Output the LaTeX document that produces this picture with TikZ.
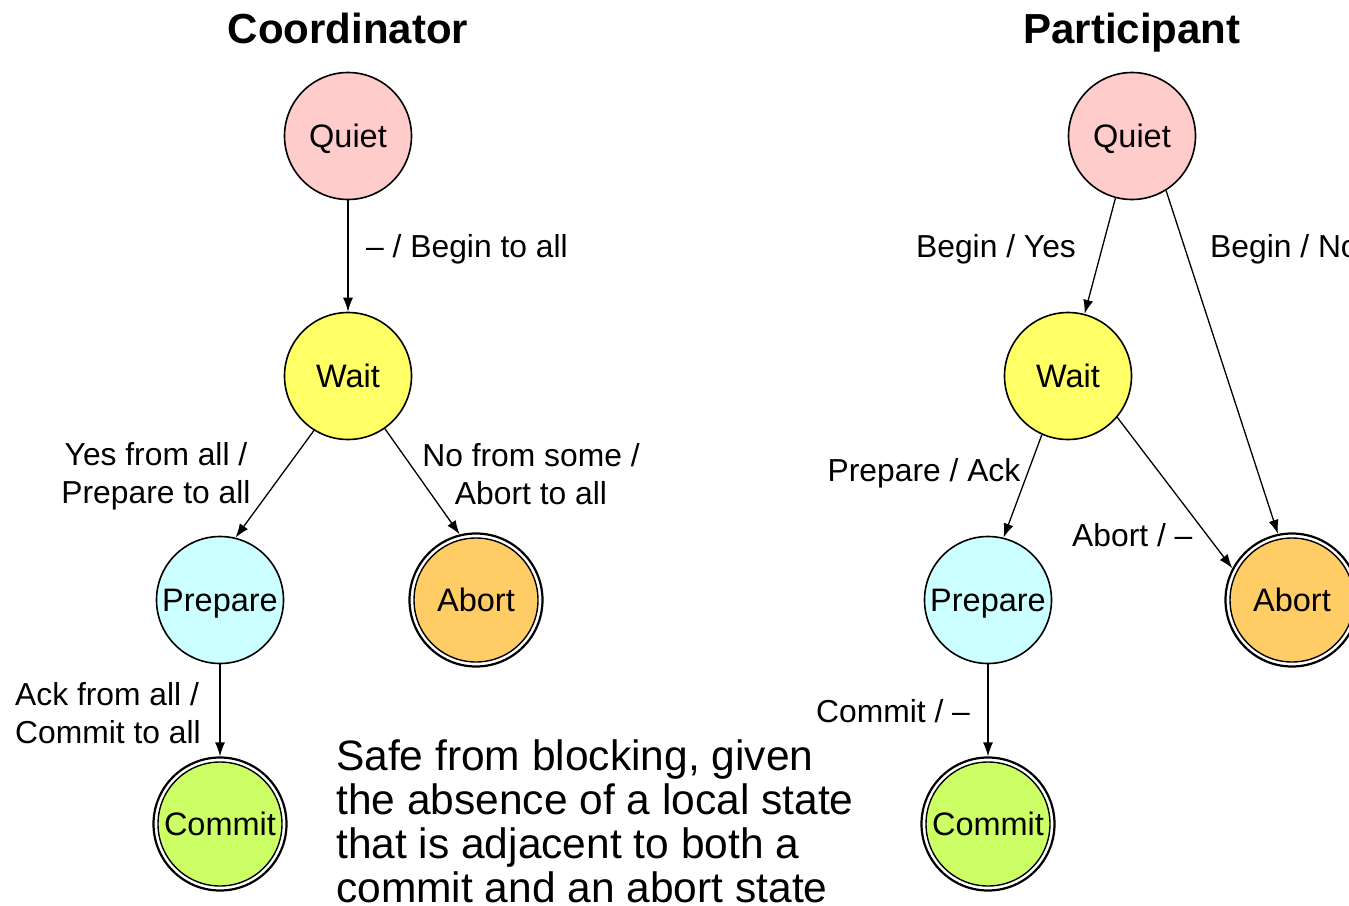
\documentclass[tikz,border=0pt]{standalone}
\usepackage{fontspec}
\setmainfont{Liberation Sans}
\usetikzlibrary{arrows.meta}
\definecolor{quietc}{HTML}{FFCCCC}
\definecolor{waitc}{HTML}{FFFF66}
\definecolor{prepc}{HTML}{CCFFFF}
\definecolor{abortc}{HTML}{FFCC66}
\definecolor{commitc}{HTML}{CCFF66}
\tikzset{
  statefont/.style={font=\fontsize{32.5}{38}\selectfont, text height=23pt, text depth=0pt},
  state/.style={circle, draw=black, line width=1.6pt, minimum size=127pt, inner sep=0pt, statefont},
  final/.style={circle, draw=black, line width=2.2pt, minimum size=133pt, inner sep=0pt,
    fill=white,
    path picture={\fill[#1, draw=black, line width=1.4pt]
      (path picture bounding box.center) circle (62pt);}},
  trans/.style={line width=1.3pt, -{Latex[length=14pt,width=10pt]}},
  lbl/.style={font=\fontsize{31.8}{38}\selectfont, inner sep=0pt},
  title/.style={font=\fontsize{42}{48}\selectfont\bfseries, inner sep=0pt,
    text height=30pt, text depth=0pt},
}
\begin{document}
\begin{tikzpicture}[x=1pt,y=-1pt]
\useasboundingbox (0,0) rectangle (1349,905);

% ---- Coordinator ----
\node[title] (ctitle) at (348,28) {Coordinator};
\node[state, fill=quietc] (cq) at (348,136) {Quiet};
\node[state, fill=waitc] (cw) at (348,376) {Wait};
\node[state, fill=prepc] (cp) at (220,600) {Prepare};
\node[final=abortc] (ca) at (476,600) {};
\node[statefont] (cal) at (ca.center) {Abort};
\node[final=commitc] (cc) at (220,824) {};
\node[statefont] (ccl) at (cc.center) {Commit};

\draw[trans] (cq) -- (cw);
\draw[trans] (cw.-122.7) -- (cp.76);
\draw[trans] (cw.-55.6) -- (ca.104);
\draw[trans] (cp) -- (cc);

\node[lbl, anchor=west] (l1) at (366,249) {– / Begin to all};
\node[lbl, align=center] (l2) at (156,476) {Yes from all /\\Prepare to all};
\node[lbl, align=center] (l3) at (531,474) {No from some /\\Abort to all};
\node[lbl, align=left, anchor=west] (l4) at (15,713) {Ack from all /\\Commit to all};

% ---- Participant ----
\node[title] (ptitle) at (1132,28) {Participant};
\node[state, fill=quietc] (pq) at (1132,136) {Quiet};
\node[state, fill=waitc] (pw) at (1068,376) {Wait};
\node[state, fill=prepc] (pp) at (988,600) {Prepare};
\node[final=abortc] (pa) at (1292,600) {};
\node[statefont] (pal) at (pa.center) {Abort};
\node[final=commitc] (pc) at (988,824) {};
\node[statefont] (pcl) at (pc.center) {Commit};

\draw[trans] (pq) -- (pw);
\draw[trans] (pq.-58.7) -- (pa.102.6);
\draw[trans] (pw.-40.6) -- (pa.152);
\draw[trans] (pw.-114) -- (pp.76);
\draw[trans] (pp) -- (pc);

\node[lbl] (m1) at (996,249) {Begin / Yes};
\node[lbl, anchor=west] (m2) at (1210,249) {Begin / No};
\node[lbl] (m3) at (924,473) {Prepare / Ack};
\node[lbl, anchor=west] (m4) at (1072,535) {Abort / –};
\node[lbl, anchor=west] (m5) at (816,711) {Commit / –};

% ---- Note ----
\node[anchor=north west, align=left, inner sep=0pt,
  font=\fontsize{42.5}{44}\selectfont] (note) at (336,739)
  {Safe from blocking, given\\the absence of a local state\\that is adjacent to both a\\commit and an abort state};
\end{tikzpicture}
\end{document}
